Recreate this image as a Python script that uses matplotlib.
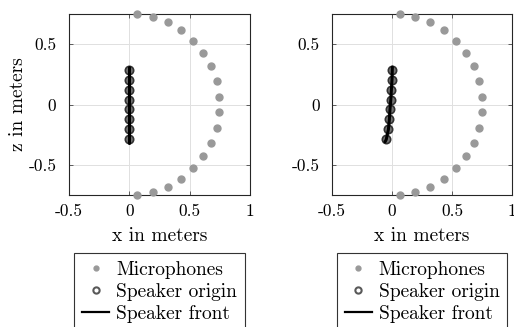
import matplotlib
matplotlib.use("Agg")
import matplotlib.pyplot as plt
from matplotlib.lines import Line2D

plt.rcParams['font.family'] = ['cmr10', 'DejaVu Serif']
plt.rcParams['axes.unicode_minus'] = False

# Microphone positions (x, z) in meters
mic_x = [0.065, 0.194, 0.317, 0.430, 0.530, 0.614, 0.680, 0.724, 0.747,
         0.747, 0.724, 0.680, 0.614, 0.530, 0.430, 0.317, 0.194, 0.065]
mic_z = [0.747, 0.724, 0.680, 0.614, 0.530, 0.430, 0.317, 0.194, 0.065,
         -0.065, -0.194, -0.317, -0.430, -0.530, -0.614, -0.680, -0.724, -0.747]

# Speaker origins, left panel
spk_left_x = [0, 0, 0, 0, 0, 0, 0, 0]
spk_left_z = [0.29, 0.207, 0.124, 0.041, -0.041, -0.124, -0.207, -0.29]
front_left_x = [0, 0]
front_left_z = [-0.32, 0.31]

# Speaker origins, right panel
spk_right_x = [0.0, 0.0, -0.005, -0.010, -0.017, -0.022, -0.030, -0.048]
spk_right_z = [0.29, 0.207, 0.124, 0.041, -0.041, -0.124, -0.207, -0.29]
front_right_x = [0.003, 0.0, -0.005, -0.010, -0.017, -0.022, -0.030, -0.048, -0.058]
front_right_z = [0.31, 0.207, 0.124, 0.041, -0.041, -0.124, -0.207, -0.29, -0.31]

xticks = [-0.5, 0, 0.5, 1]
xticklabels = ['-0.5', '0', '0.5', '1']
yticks = [-0.5, 0, 0.5]
yticklabels = ['-0.5', '0', '0.5']

W, H = 514, 327
fig = plt.figure(figsize=(W / 100, H / 100), dpi=100)

ax_boxes = [(69, 14, 181, 181), (332, 14, 180, 181)]
panels = [(spk_left_x, spk_left_z, front_left_x, front_left_z),
          (spk_right_x, spk_right_z, front_right_x, front_right_z)]

TICK_FS = 12.5
LABEL_FS = 14

for i, ((l, t, w, h), (sx, sz, fx, fz)) in enumerate(zip(ax_boxes, panels)):
    ax = fig.add_axes([l / W, 1 - (t + h) / H, w / W, h / H])
    ax.set_xlim(-0.5, 1)
    ax.set_ylim(-0.75, 0.75)
    ax.grid(True, color='0.88', linewidth=0.7)
    ax.set_axisbelow(True)
    ax.plot(mic_x, mic_z, 'o', color='0.6', ms=5, mec='0.6', clip_on=False, zorder=3)
    ax.plot(sx, sz, 'o', mfc='0.45', mec='0.2', mew=1.2, ms=6, zorder=4)
    ax.plot(fx, fz, '-', color='black', lw=2.2, solid_capstyle='round', zorder=5)
    ax.set_xticks(xticks)
    ax.set_xticklabels(xticklabels)
    ax.set_yticks(yticks)
    ax.set_yticklabels(yticklabels)
    ax.tick_params(direction='in', length=3, width=0.5, color='0.15',
                   labelsize=TICK_FS, top=True, right=True)
    ax.tick_params(axis='x', pad=6)
    ax.tick_params(axis='y', pad=9)
    for s in ax.spines.values():
        s.set_linewidth(0.8)
        s.set_color('0.15')
    ax.set_xlabel('x in meters', fontsize=LABEL_FS, labelpad=6)
    if i == 0:
        ax.set_ylabel('z in meters', fontsize=LABEL_FS, labelpad=1)

    handles = [
        Line2D([], [], ls='none', marker='o', color='0.6', ms=3.5),
        Line2D([], [], ls='none', marker='o', mfc='none', mec='0.35', mew=1.5, ms=4.5),
        Line2D([], [], ls='-', color='black', lw=1.6),
    ]
    cx = (l + w / 2) / W
    leg = fig.legend(handles, ['Microphones', 'Speaker origin', 'Speaker front'],
                     loc='upper center', bbox_to_anchor=(cx, 1 - 253 / H),
                     fancybox=False, framealpha=1, edgecolor='0.2',
                     fontsize=LABEL_FS, handlelength=1.4, handletextpad=0.35,
                     borderpad=0.4, labelspacing=0.2, borderaxespad=0)
    leg.get_frame().set_linewidth(0.8)

fig.savefig('out.png', dpi=100)
